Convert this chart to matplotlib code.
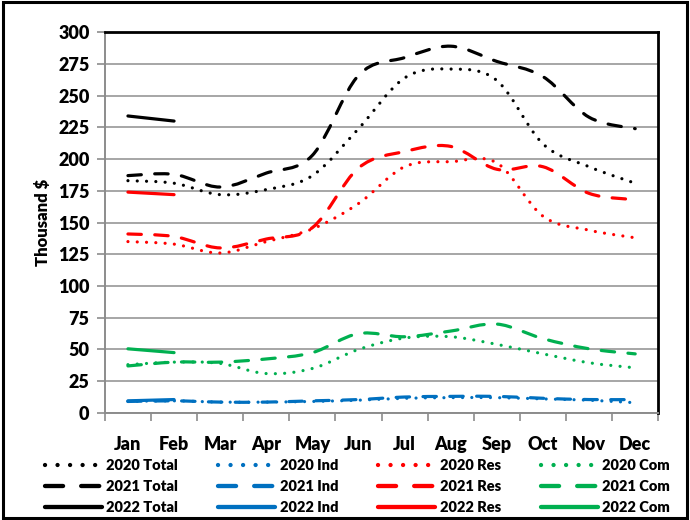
import numpy as np
import matplotlib
matplotlib.use("Agg")
import matplotlib.pyplot as plt
from matplotlib.path import Path
from matplotlib.patches import PathPatch, Rectangle
from matplotlib.lines import Line2D

plt.rcParams['font.family'] = ['Lato', 'DejaVu Sans']
plt.rcParams['font.weight'] = 'heavy'

months = ["Jan", "Feb", "Mar", "Apr", "May", "Jun",
          "Jul", "Aug", "Sep", "Oct", "Nov", "Dec"]

# values (thousand $)
total_2020 = [183, 181, 172, 176, 187, 224, 264, 271, 262, 212, 194, 181]
total_2021 = [187, 188, 178, 189, 203, 266, 280, 289, 277, 265, 233, 224]
total_2022 = [234, 230]

ind_2020 = [9, 9.5, 8.5, 8.5, 9, 10, 11.5, 12, 12, 11, 10, 8]
ind_2021 = [9, 9.5, 8.5, 8.5, 9.5, 10.5, 12.5, 13, 13, 11.5, 10.5, 10.5]
ind_2022 = [9.5, 10.5]

res_2020 = [135, 133, 126, 135, 145, 165, 194, 198, 197, 155, 144, 138]
res_2021 = [141, 139, 130, 137, 146, 193, 206, 210, 192, 194, 173, 168]
res_2022 = [174, 172]

com_2020 = [38, 40, 39, 31, 35, 50, 59, 60, 54, 46.5, 39.5, 35.5]
com_2021 = [37, 40, 40, 42.5, 47.5, 62.5, 60, 64.5, 70, 58.5, 50.5, 46.5]
com_2022 = [50.5, 47.5]

LW = 2.3
styles = {
    "2020": dict(linestyle=(0, (0.01, 2.9))),
    "2021": dict(linestyle=(0, (4.2, 4.2))),
    "2022": dict(linestyle="-"),
}


def smooth_path(y):
    # excel-like smoothed line: cubic bezier through the monthly points
    x = np.arange(len(y), dtype=float)
    pts = np.column_stack([x, np.asarray(y, dtype=float)])
    n = len(pts)
    verts = [pts[0]]
    codes = [Path.MOVETO]
    for i in range(n - 1):
        p0 = pts[i - 1] if i > 0 else pts[i]
        p1 = pts[i]
        p2 = pts[i + 1]
        p3 = pts[i + 2] if i + 2 < n else pts[i + 1]
        c1 = p1 + (p2 - p0) / 6.0
        c2 = p2 - (p3 - p1) / 6.0
        verts += [c1, c2, p2]
        codes += [Path.CURVE4] * 3
    return Path(verts, codes)


fig = plt.figure(figsize=(6.9, 5.2), dpi=100)
ax = fig.add_axes([0.152, 0.206, 0.802, 0.732])

series = [
    ("2020 Total", total_2020, "black", "2020"),
    ("2021 Total", total_2021, "black", "2021"),
    ("2022 Total", total_2022, "black", "2022"),
    ("2020 Ind", ind_2020, "#0070C0", "2020"),
    ("2021 Ind", ind_2021, "#0070C0", "2021"),
    ("2022 Ind", ind_2022, "#0070C0", "2022"),
    ("2020 Res", res_2020, "#FF0000", "2020"),
    ("2021 Res", res_2021, "#FF0000", "2021"),
    ("2022 Res", res_2022, "#FF0000", "2022"),
    ("2020 Com", com_2020, "#00B050", "2020"),
    ("2021 Com", com_2021, "#00B050", "2021"),
    ("2022 Com", com_2022, "#00B050", "2022"),
]

handles = []
for label, vals, color, yr in series:
    patch = PathPatch(smooth_path(vals), fill=False, edgecolor=color,
                      linewidth=LW, capstyle="round", joinstyle="round",
                      zorder=3, **styles[yr])
    ax.add_patch(patch)
    handles.append(Line2D([], [], color=color, linewidth=LW + 0.8,
                          dash_capstyle="round", solid_capstyle="round",
                          label=label, **styles[yr]))

ax.set_xlim(-0.5, 11.5)
ax.set_ylim(0, 300)
ax.set_yticks(np.arange(0, 301, 25))
ax.yaxis.grid(True, color="#A6A6A6", linewidth=1.4)
ax.set_axisbelow(True)

ax.set_xticks(np.arange(-0.5, 12, 1))
ax.set_xticklabels([])
ax.set_xticks(np.arange(12), minor=True)
ax.set_xticklabels(months, minor=True)
ax.tick_params(axis="x", which="major", direction="out", length=6,
               color="#8C8C8C", width=1.2)
ax.tick_params(axis="x", which="minor", length=0, pad=17, labelsize=13)
ax.tick_params(axis="y", direction="out", length=6, color="#8C8C8C",
               width=1.2, pad=5, labelsize=13)

for s in ["left", "bottom"]:
    ax.spines[s].set_color("#8C8C8C")
    ax.spines[s].set_linewidth(1.4)
for s in ["top", "right"]:
    ax.spines[s].set_color("black")
    ax.spines[s].set_linewidth(2)

ax.set_ylabel("Thousand $", fontsize=12, fontweight="heavy", labelpad=5)

fig.legend(handles=handles, loc="upper left", bbox_to_anchor=(0.055, 0.132),
           ncol=4, frameon=False, fontsize=10.5, handlelength=3.9,
           columnspacing=2.75, handletextpad=0.3, labelspacing=0.55,
           borderpad=0)

fig.add_artist(Rectangle((0.004, 0.004), 0.992, 0.992, transform=fig.transFigure,
                         fill=False, edgecolor="black", linewidth=2.2))

fig.savefig("out.png", dpi=100)
